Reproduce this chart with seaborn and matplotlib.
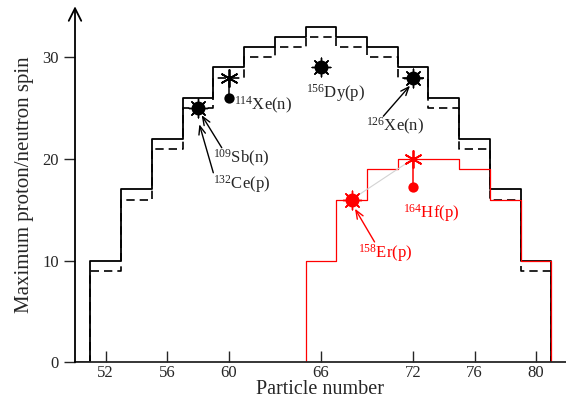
import numpy as np
import pandas as pd
import matplotlib
matplotlib.use("Agg")
import matplotlib.pyplot as plt
import seaborn as sns

# step edges (particle number) and maximum spin per bin
black_edges = [51, 53, 55, 57, 59, 61, 63, 65, 67, 69, 71, 73, 75, 77, 79, 81]
black_spin = [10, 17, 22, 26, 29, 31, 32, 33, 32, 31, 29, 26, 22, 17, 10]
dashed_spin = [9, 16, 21, 25, 28, 30, 31, 32, 31, 30, 28, 25, 21, 16, 9]
red_edges = [65, 67, 69, 71, 75, 77, 79, 81]
red_spin = [10, 16, 19, 20, 19, 16, 10]

# measured band terminations
burst_x = [58, 66, 72]
burst_y = [25, 29, 28]
red_burst_x = [68]
red_burst_y = [16]
star_x = [60]
star_y = [28]
red_star_x = [72]
red_star_y = [20]
circle_x = [60]
circle_y = [26]
red_circle_x = [72]
red_circle_y = [17.2]

x_ticks = [52, 56, 60, 66, 72, 76, 80]
y_ticks = [0, 10, 20, 30]

sns.set_style("ticks")
plt.rcParams['font.family'] = ['Liberation Serif', 'DejaVu Serif']
plt.rcParams['mathtext.fontset'] = 'custom'
plt.rcParams['mathtext.rm'] = 'Liberation Serif'
plt.rcParams['mathtext.it'] = 'Liberation Serif:italic'

fig = plt.figure(figsize=(5.66, 4.01), dpi=100)
ax = fig.add_axes([75 / 566, 38.7 / 401, 491 / 566, 356 / 401])


def steps(edges, vals, start=None):
    xs = ([start] if start is not None else [edges[0]]) + list(edges)
    ys = [0] + list(vals) + [0]
    return pd.DataFrame({'x': xs, 'y': ys})


black = steps(black_edges, black_spin, start=50)
dashed = steps(black_edges, dashed_spin, start=50)
red = steps(red_edges, red_spin)

sns.lineplot(data=black, x='x', y='y', drawstyle='steps-post', color='black',
             lw=1.3, estimator=None, sort=False, ax=ax)
sns.lineplot(data=dashed, x='x', y='y', drawstyle='steps-post', color='black',
             lw=1.2, dashes=False, linestyle=(0, (5, 3)), estimator=None, sort=False, ax=ax)
sns.lineplot(data=red, x='x', y='y', drawstyle='steps-post', color='red',
             lw=0.9, estimator=None, sort=False, ax=ax)

# connectors
ax.plot([red_burst_x[0], red_star_x[0]], [red_burst_y[0], red_star_y[0]],
        color='lightgray', lw=0.8, zorder=3)
ax.plot([star_x[0], circle_x[0]], [star_y[0], circle_y[0]], color='black', lw=1.1, zorder=3)
ax.plot([red_star_x[0], red_circle_x[0]], [red_star_y[0], red_circle_y[0]], color='red', lw=1.1, zorder=3)

# markers: filled circle with spikes
for bx, by, c in [(burst_x, burst_y, 'black'), (red_burst_x, red_burst_y, 'red')]:
    sns.scatterplot(x=bx, y=by, marker='o', s=100, color=c, edgecolor=c,
                    linewidth=0, zorder=5, ax=ax)
    sns.scatterplot(x=bx, y=by, marker=(8, 2, 0), s=180, color=c, edgecolor=c,
                    linewidth=1.0, zorder=5, ax=ax)
sns.scatterplot(x=star_x, y=star_y, marker=(6, 2, 0), s=150, color='black', edgecolor='black',
                linewidth=1.3, zorder=5, ax=ax)
sns.scatterplot(x=red_star_x, y=red_star_y, marker=(6, 2, 0), s=150, color='red', edgecolor='red',
                linewidth=1.3, zorder=5, ax=ax)
sns.scatterplot(x=circle_x, y=circle_y, marker='o', s=55, color='black', edgecolor='black',
                linewidth=0, zorder=5, ax=ax)
sns.scatterplot(x=red_circle_x, y=red_circle_y, marker='o', s=55, color='red', edgecolor='red',
                linewidth=0, zorder=5, ax=ax)

# labels
fs = 12
ax.text(60.35, 24.8, r'$^{114}$Xe(n)', fontsize=fs, va='baseline', ha='left')
ax.text(65.05, 26.05, r'$^{156}$Dy(p)', fontsize=fs, va='baseline', ha='left')
ax.text(71.35, 14.25, r'$^{164}$Hf(p)', fontsize=fs, va='baseline', ha='left', color='red')

arrow_kw = dict(arrowstyle='->,head_length=0.5,head_width=0.2', lw=1.0, shrinkA=0, shrinkB=0)
ax.annotate(r'$^{109}$Sb(n)', xy=(58.24, 24.3), xytext=(59.0, 19.6), fontsize=fs,
            va='baseline', ha='left',
            arrowprops=dict(arrow_kw, color='black', patchA=None, relpos=(0.15, 1.0)))
ax.annotate(r'$^{132}$Ce(p)', xy=(58.09, 23.4), xytext=(59.0, 17.1), fontsize=fs,
            va='baseline', ha='left',
            arrowprops=dict(arrow_kw, color='black', patchA=None, relpos=(0.0, 1.0)))
ax.annotate(r'$^{126}$Xe(n)', xy=(71.8, 27.2), xytext=(68.93, 22.7), fontsize=fs,
            va='baseline', ha='left',
            arrowprops=dict(arrow_kw, color='black', patchA=None, relpos=(0.3, 1.0)))
ax.annotate(r'$^{158}$Er(p)', xy=(68.22, 15.1), xytext=(68.43, 10.3), fontsize=fs,
            va='baseline', ha='left', color='red',
            arrowprops=dict(arrow_kw, color='red', patchA=None, relpos=(0.3, 1.0)))

ax.set_xlim(50, 81.95)
ax.set_ylim(0, 35)
ax.set_xticks(x_ticks)
ax.set_yticks(y_ticks)
ax.tick_params(axis='x', direction='in', length=8, width=1, labelsize=12, pad=2)
ax.tick_params(axis='y', direction='out', length=8, width=1, labelsize=12)
ax.set_xlabel('Particle number', fontsize=14.5, labelpad=-1)
ax.set_ylabel('Maximum proton/neutron spin', fontsize=15, labelpad=6)

sns.despine(ax=ax)
for s in ['left', 'bottom']:
    ax.spines[s].set_linewidth(1.3)
ax.spines['left'].set_visible(False)
ax.annotate('', xy=(0, 1.0), xycoords='axes fraction', xytext=(0, 0), textcoords='axes fraction',
            arrowprops=dict(arrowstyle='->,head_length=0.9,head_width=0.45', lw=1.3,
                            color='black', shrinkA=0, shrinkB=0), annotation_clip=False)

fig.savefig('out.png', dpi=100)
